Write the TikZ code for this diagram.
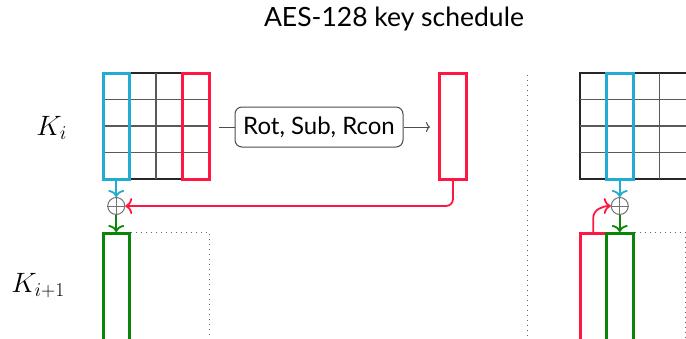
\RequirePackage{fix-cm}
\documentclass[tikz,border=0pt]{standalone}
\usepackage{fontspec}
\setmainfont{Lato}
\usetikzlibrary{arrows.meta}
\definecolor{kblue}{HTML}{22ACD1}
\definecolor{kred}{HTML}{FF1744}
\definecolor{kgreen}{HTML}{0A850A}
\begin{document}
\begin{tikzpicture}[x=1pt,y=-1pt,
  font=\fontsize{24}{28}\selectfont,
  gridbox/.style={draw=black!85,line width=2,minimum width=106,minimum height=106,inner sep=0},
  gridline/.style={draw=black!65,line width=1.3},
  colbox/.style={line width=3,minimum width=26.5,minimum height=106,inner sep=0},
  opbox/.style={draw=black!70,line width=1,rounded corners=7,minimum width=168,minimum height=40,inner sep=2},
  xorc/.style={circle,draw=black!55,line width=1,minimum size=17,inner sep=0},
  dotline/.style={draw=black!60,line width=1,dash pattern=on 1pt off 4pt},
  tip/.style={-{Computer Modern Rightarrow[width=16pt,length=7pt]}},
  link/.style={line width=1.8,tip},
  mathlabel/.style={anchor=base east,inner sep=0,font=\fontsize{28}{32}\selectfont}]
\useasboundingbox (0,0) rectangle (686,338);
\clip (0,0) rectangle (686,338);

\node[font=\fontsize{26.5}{30}\selectfont] (title) at (394,19) {AES-128 key schedule};

% labels
\node[mathlabel] (ki) at (67,135) {$K_i$};
\node[mathlabel] (ki1) at (65,292) {$K_{i+1}$};

% left grid
\node[gridbox] (ga) at (156,126) {};
\foreach \x in {129.5,156,182.5} \draw[gridline] (\x,73) -- (\x,179);
\foreach \y in {99.5,126,152.5} \draw[gridline] (103,\y) -- (209,\y);
\node[colbox,draw=kblue] (ba) at (116.25,126) {};
\node[colbox,draw=kred] (ra) at (195.75,126) {};

% operation box
\coordinate (opin) at (219,127);
\coordinate (opout) at (430,127);
\node[opbox] (op) at (319,127) {Rot, Sub, Rcon};
\draw[draw=black!70,line width=1] (opin) -- (op.west);
\draw[draw=black!70,line width=1,-{To[length=4pt,width=10pt]}] (op.east) -- (opout);

% transformed column
\node[colbox,draw=kred,minimum width=27] (rb) at (453,126) {};

% xor left
\node[xorc] (xa) at (116.25,206) {};
\draw[black!55,line width=1] (xa.north) -- (xa.south) (xa.west) -- (xa.east);
\draw[link,kred,rounded corners=7] (rb.south) |- (xa.east);
\draw[link,kblue] (ba.south) -- (xa.north);

% new column left
\node[colbox,draw=kgreen,anchor=north,minimum height=130] (ga1) at (116.25,232) {};
\draw[link,kgreen] (xa.south) -- (ga1.north);
\coordinate (dra) at (209,345);
\draw[dotline] (ga1.north east) -| (dra);

% separator
\coordinate (sept) at (527,75);
\coordinate (sepb) at (527,345);
\draw[dotline] (sept) -- (sepb);

% right grid
\node[gridbox,minimum width=120] (gb) at (640,126) {};
\foreach \x in {606.5,633,659.5} \draw[gridline] (\x,73) -- (\x,179);
\foreach \y in {99.5,126,152.5} \draw[gridline] (580,\y) -- (700,\y);
\node[colbox,draw=kblue] (bb) at (619.75,126) {};

% xor right
\node[xorc] (xb) at (619.75,206) {};
\draw[black!55,line width=1] (xb.north) -- (xb.south) (xb.west) -- (xb.east);
\draw[link,kblue] (bb.south) -- (xb.north);

% new columns right
\node[colbox,draw=kred,anchor=north,minimum height=130] (rc) at (593.25,232) {};
\node[colbox,draw=kgreen,anchor=north,minimum height=130] (gc) at (619.75,232) {};
\draw[link,kgreen] (xb.south) -- (gc.north);
\draw[link,kred] (rc.north) -- ++(0,-14) to[out=90,in=180] (xb.west);
\coordinate (drb) at (685,345);
\draw[dotline] (gc.north east) -| (drb);
\end{tikzpicture}
\end{document}
